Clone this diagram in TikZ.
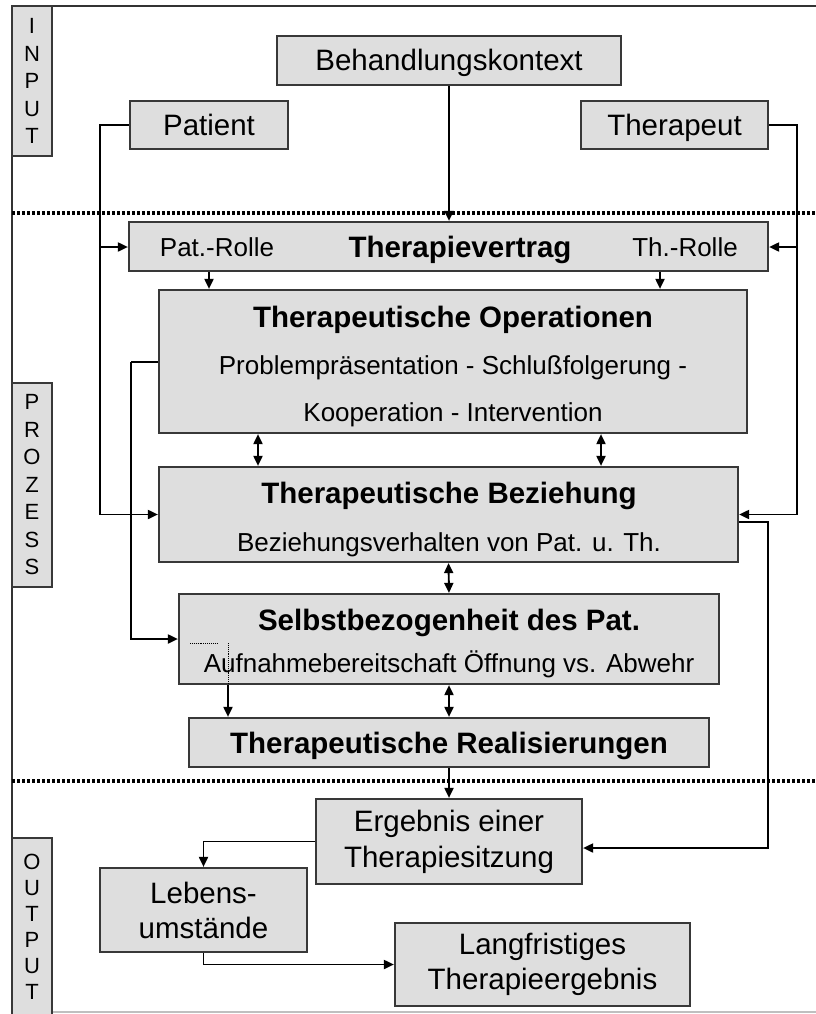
\documentclass[tikz,border=0pt]{standalone}
\usepackage{fontspec}
\setmainfont{Liberation Sans}
\usetikzlibrary{arrows.meta}

\begin{document}
\begin{tikzpicture}[
        x=1pt, y=-1pt,
        box/.style={draw=black!78, line width=2.2pt, fill=black!13, inner sep=0pt},
        sidebox/.style={box, minimum width=40pt, align=center, font=\fontsize{22}{27.5}\selectfont},
        bigtext/.style={font=\fontsize{29.5}{36}\selectfont, align=center},
        capline/.style={text height=21pt, text depth=0pt},
        boldtext/.style={font=\fontsize{29.5}{34}\selectfont\bfseries, capline},
        subtext/.style={font=\fontsize{26}{30}\selectfont, text height=18.5pt, text depth=0pt},
        wire/.style={line width=1.9pt},
        conn/.style={wire, -{Triangle[length=10pt,width=9pt]}},
        twoway/.style={wire, {Triangle[length=10pt,width=9pt]}-{Triangle[length=10pt,width=9pt]}},
        divider/.style={line width=3.2pt, dash pattern=on 3pt off 2pt}
    ]
        \useasboundingbox (0,0) rectangle (816,1014);

        % Frame and dividers
        \draw[line width=1.8pt, black!80] (816,6) -- (12,6) -- (12,1014);
        \draw[line width=1.2pt, black!25] (12,1012) -- (816,1012);
        \draw[divider] (12,213) -- (816,213);
        \draw[divider] (12,781) -- (816,781);

        % Side labels
        \node[sidebox, minimum height=150pt] (inp) at (32,81) {I\\N\\P\\U\\T};
        \node[sidebox, minimum height=204pt] (proz) at (32,485) {P\\R\\O\\Z\\E\\S\\S};
        \node[sidebox, minimum height=178pt, font=\fontsize{22}{26}\selectfont] (outp) at (32,927) {O\\U\\T\\P\\U\\T};

        % Input
        \node[box, bigtext, capline, minimum width=344pt, minimum height=49pt] (ctx) at (449,60.5) {Behandlungskontext};
        \node[box, bigtext, capline, minimum width=158pt, minimum height=48pt] (pat) at (209,125) {Patient};
        \node[box, bigtext, capline, minimum width=187pt, minimum height=48pt] (ther) at (674.5,125) {Therapeut};

        % Prozess
        \node[box, minimum width=639pt, minimum height=49pt] (vertrag) at (448.5,246.5) {};
        \node[subtext] (prol) at (217,247) {Pat.-Rolle};
        \node[boldtext] (tvt) at (460,247) {Therapievertrag};
        \node[subtext] (trol) at (685,247) {Th.-Rolle};

        \node[box, minimum width=588pt, minimum height=143pt] (ops) at (453,361.5) {};
        \node[boldtext] (opst) at (453,317) {Therapeutische Operationen};
        \node[subtext] (opsa) at (453,365) {Problempräsentation - Schlußfolgerung -};
        \node[subtext] (opsb) at (453,412) {Kooperation - Intervention};

        \node[box, minimum width=579pt, minimum height=95pt] (bez) at (448.5,514.5) {};
        \node[boldtext] (bezt) at (449,493) {Therapeutische Beziehung};
        \node[subtext] (beza) at (449,542) {Beziehungsverhalten von Pat. u. Th.};

        \node[box, minimum width=540pt, minimum height=90pt] (selbst) at (449,639) {};
        \node[boldtext] (selt) at (449,620) {Selbstbezogenheit des Pat.};
        \node[subtext] (sela) at (449,663) {Aufnahmebereitschaft Öffnung vs. Abwehr};

        \node[box, boldtext, minimum width=520pt, minimum height=49pt] (real) at (449,742.5) {Therapeutische Realisierungen};

        % Output
        \node[box, bigtext, minimum width=266pt, minimum height=85pt] (erg) at (449,841.5) {Ergebnis einer\\Therapiesitzung};
        \node[box, bigtext, minimum width=207pt, minimum height=84pt, font=\fontsize{29.5}{35}\selectfont] (leb) at (203.5,910) {Lebens-\\umstände};
        \node[box, bigtext, minimum width=295pt, minimum height=83pt, font=\fontsize{29.5}{35}\selectfont] (lang) at (542.5,964.5) {Langfristiges\\Therapieergebnis};

        % Connectors
        \coordinate (pl) at (100,247);
        \coordinate (tr) at (797,247);
        \coordinate (va) at (209,0);
        \coordinate (vb) at (660,0);
        \coordinate (oa) at (258,0);
        \coordinate (ob) at (601,0);
        \coordinate (ol) at (131,362);
        \coordinate (br) at (768,522);
        \coordinate (er) at (768,848);
        \coordinate (dm) at (228,643);

        \draw[conn] (ctx) -- (ctx |- vertrag.north);
        \draw[wire] (pat.west) -| (pl);
        \draw[conn] (pl) -- (pl -| vertrag.west);
        \draw[conn] (pl) |- (bez.west);
        \draw[wire] (ther.east) -| (tr);
        \draw[conn] (tr) -- (tr -| vertrag.east);
        \draw[conn] (tr) |- (bez.east);

        \draw[conn] (vertrag.south -| va) -- (ops.north -| va);
        \draw[conn] (vertrag.south -| vb) -- (ops.north -| vb);
        \draw[twoway] (ops.south -| oa) -- (bez.north -| oa);
        \draw[twoway] (ops.south -| ob) -- (bez.north -| ob);

        \draw[wire] (ops.west |- ol) -- (ol);
        \draw[conn] (ol) |- (selbst.west);
        \draw[conn] (bez.east |- br) -- (br) -- (er) -- (er -| erg.east);

        \draw[twoway] (bez.south) -- (selbst.north);
        \draw[twoway] (selbst.south) -- (real.north);
        \draw[line width=0.9pt, densely dotted] (190,643) -- (217,643);
        \draw[line width=0.9pt, densely dotted] (dm) -- (dm |- selbst.south);
        \draw[conn] (dm |- selbst.south) -- (dm |- real.north);

        \draw[conn] (real.south) -- (erg.north);
        \draw[conn] (erg.west) -| (leb.north);
        \draw[conn] (leb.south) |- (lang.west);
    \end{tikzpicture}
\end{document}
